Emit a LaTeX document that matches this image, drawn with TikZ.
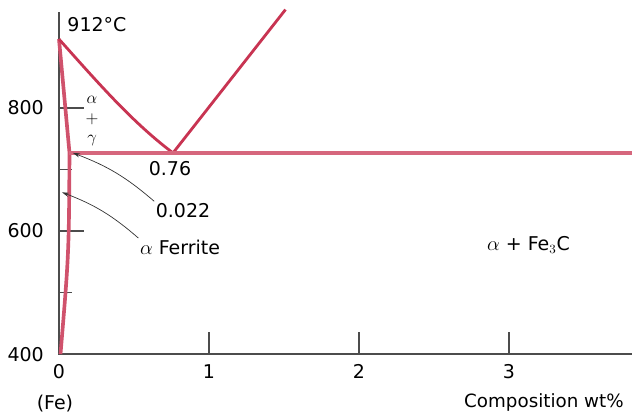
\documentclass[tikz,border=0pt]{standalone}
\usepackage{fontspec}
\setmainfont{DejaVu Sans}
\usetikzlibrary{arrows.meta}

\definecolor{phasered}{RGB}{200,52,82}
\tikzset{
  phaseline/.style={phasered, line width=2pt, line join=round},
  axisline/.style={black!70, line width=0.9pt},
  pointer/.style={black!80, line width=0.5pt, -{Stealth[length=5pt,width=3pt]}},
  lbl/.style={font=\fontsize{13.5}{15}\selectfont, inner sep=1pt},
  stack/.style={font=\fontsize{12.5}{13}\selectfont, inner sep=0pt}
}

\begin{document}
\begin{tikzpicture}[x=3.75cm, y=0.015375cm]
  \useasboundingbox (-0.3933,294.3) rectangle (3.82,975.6);

  % Axes
  \coordinate (o) at (0,400);
  \draw[axisline] (0,956) -- (o) -- (3.82,400);

  % Ticks
  \foreach \t in {600,800} \draw[axisline] (0,\t) -- (0.167,\t);
  \foreach \t in {500,700} \draw[axisline] (0,\t) -- (0.087,\t);
  \foreach \c in {1,2,3} \draw[axisline] (\c,400) -- (\c,436);

  % Axis labels
  \foreach \t in {400,600,800} \node[lbl, anchor=east] (t\t) at (-0.09,\t) {\t};
  \foreach \c in {0,1,2,3} \node[lbl, anchor=north] (c\c) at (\c,386) {\c};
  \node[lbl] (fe) at (-0.027,320) {(Fe)};
  \node[lbl, font=\fontsize{13}{15}\selectfont] (comp) at (3.233,322) {Composition wt\%};

  % Phase boundaries
  \coordinate (a3) at (0,912);
  \coordinate (eut) at (0.07,727);
  \coordinate (eoid) at (0.76,727);
  \draw[phaseline, phasered!85, line width=2.6pt] (a3) -- (eut) .. controls (0.066,563) .. (0.01,400);
  \draw[phaseline] (a3) .. controls (0.267,839) and (0.493,776) .. (eoid) -- (1.51,960);
  \draw[phaseline, phasered!75, line width=3.2pt] (eut) -- (3.82,727);

  % Labels
  \node[lbl] (n912) at (0.253,935) {912°C};
  \node[lbl] (n076) at (0.74,702) {0.76};
  \node[lbl] (n022) at (0.827,634) {0.022};
  \node[lbl] (nfer) at (0.807,574) {$\alpha$ Ferrite};
  \node[stack] (nalpha) at (0.22,813) {$\alpha$};
  \node[stack] (nplus) at (0.22,781) {$+$};
  \node[stack] (ngamma) at (0.22,747) {$\gamma$};
  \node[lbl] (nafc) at (3.13,577) {$\alpha$ + Fe$_3$C};

  % Pointers
  \coordinate (tip022) at (0.093,727);
  \coordinate (tipfer) at (0.02,663);
  \draw[pointer] (n022.north west) to[bend right=10] (tip022);
  \draw[pointer] (nfer.north west) to[bend right=10] (tipfer);
\end{tikzpicture}
\end{document}
